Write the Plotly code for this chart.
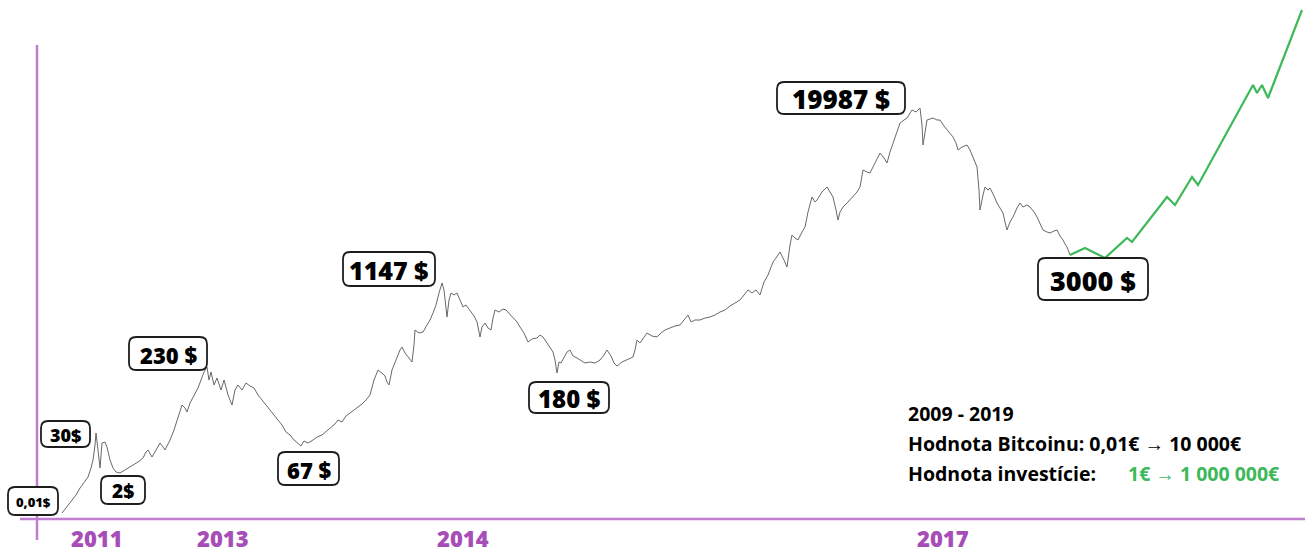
import plotly.graph_objects as go

# ---- data (horizontal position, vertical level measured from top of chart) ----
price_x = [62,66,72,76,80,84,88,91,93,95,96,98,100,102,105,107,110,113,116,120,123,128,133,138,143,146,148,152,156,160,163,165,168,170,174,177,180,182,185,187,190,194,198,201,204,207,209,211,214,217,221,224,228,232,235,238,242,246,250,254,258,262,266,270,274,278,282,286,290,294,298,301,304,308,313,317,322,327,331,335,338,342,346,350,354,358,362,366,370,374,378,382,385,387,389,392,395,397,400,402,405,409,412,414,415,419,423,427,430,433,436,439,442,444,446,447,449,451,454,457,460,463,466,470,474,477,480,482,485,488,491,493,495,499,503,506,510,513,517,520,524,528,532,537,540,543,546,548,551,553,555,557,559,561,564,567,570,573,577,580,585,590,595,600,604,607,611,614,617,622,627,633,635,637,640,644,647,652,657,661,665,670,675,680,684,688,691,695,700,705,710,715,720,725,730,735,740,744,748,752,756,760,764,768,771,773,776,780,783,787,790,792,795,798,802,805,808,812,815,817,822,827,830,833,836,838,840,843,848,853,857,860,863,867,870,875,880,884,887,890,893,897,900,904,907,912,916,920,922,923,925,927,930,933,937,940,944,947,950,953,956,958,962,967,970,973,975,977,979,980,983,985,988,990,994,997,1000,1003,1005,1007,1010,1013,1017,1020,1023,1027,1030,1034,1037,1040,1043,1047,1050,1054,1057,1060,1063,1065,1067,1070]
price_y = [513,508,500,495,488,482,477,468,460,445,433,450,468,443,442,447,460,468,472,473,471,468,465,462,458,452,450,457,450,443,447,450,444,440,430,420,410,405,408,412,403,395,388,380,372,367,380,372,385,378,390,380,395,405,390,385,390,383,386,388,395,400,405,410,415,420,425,432,435,440,443,446,441,443,440,437,435,431,428,424,420,422,416,413,410,407,404,400,395,380,370,373,376,382,385,370,362,357,350,347,353,358,362,345,330,333,332,325,320,313,305,293,283,290,305,317,300,293,295,293,300,307,305,310,316,322,337,327,323,328,330,318,310,312,309,310,314,318,322,327,333,342,339,338,335,337,342,345,349,352,360,373,362,363,358,352,350,356,358,360,363,362,363,360,355,350,356,363,366,362,360,357,350,340,343,337,333,336,337,333,330,328,326,325,320,315,322,320,320,318,317,315,312,310,306,303,300,295,290,293,290,295,282,275,268,262,258,252,258,267,245,235,238,240,232,227,212,197,202,200,192,187,192,197,210,220,212,207,202,197,192,187,170,172,173,163,153,158,163,152,143,132,123,120,118,110,112,108,125,145,130,120,119,118,120,120,126,130,134,137,143,150,147,145,150,157,162,167,190,210,195,187,190,188,196,203,208,213,222,230,222,217,208,203,207,205,207,212,217,224,230,232,233,231,230,236,240,244,247,255]

forecast_x = [1070,1085,1105,1127,1132,1167,1175,1192,1198,1253,1257,1262,1268,1302]
forecast_y = [255,248,258,238,242,197,205,177,185,85,93,85,98,10]

price_labels = ["0,01$", "30$", "2$", "230 $", "67 $", "1147 $", "180 $", "19987 $", "3000 $"]
label_boxes = [  # x0, y0, x1, y1
    (8, 487, 58, 515),
    (41, 421, 90, 447),
    (101, 476, 145, 504),
    (129, 337, 207, 370),
    (278, 452, 339, 485),
    (343, 252, 435, 286),
    (529, 382, 609, 413),
    (777, 82, 905, 114),
    (1038, 258, 1148, 300),
]
label_sizes = [13, 18, 19, 22, 22, 25, 24, 26, 27]

year_labels = ["2011", "2013", "2014", "2017"]
year_pos = [97, 223, 463, 943]

PURPLE = "#A64DB8"
AXIS = "#C07ED0"
GREEN = "#3DB85A"
FONT = "Open Sans"

fig = go.Figure()
fig.add_trace(go.Scatter(x=price_x, y=price_y, mode="lines",
                         line=dict(color="#444444", width=1), opacity=0.8,
                         hoverinfo="skip", showlegend=False))
fig.add_trace(go.Scatter(x=forecast_x, y=forecast_y, mode="lines",
                         line=dict(color=GREEN, width=2.2),
                         hoverinfo="skip", showlegend=False))


def rounded(x0, y0, x1, y1, r=7):
    return (f"M {x0+r},{y0} L {x1-r},{y0} Q {x1},{y0} {x1},{y0+r} "
            f"L {x1},{y1-r} Q {x1},{y1} {x1-r},{y1} L {x0+r},{y1} "
            f"Q {x0},{y1} {x0},{y1-r} L {x0},{y0+r} Q {x0},{y0} {x0+r},{y0} Z")


shapes = [
    dict(type="line", x0=37, x1=37, y0=45, y1=540, line=dict(color=AXIS, width=2.5)),
    dict(type="line", x0=20, x1=1305, y0=519, y1=519, line=dict(color=AXIS, width=2.5)),
]
annotations = []
for txt, (x0, y0, x1, y1), fs in zip(price_labels, label_boxes, label_sizes):
    shapes.append(dict(type="path", path=rounded(x0, y0, x1, y1),
                       line=dict(color="#1e1e1e", width=1.8), fillcolor="white"))
    annotations.append(dict(x=(x0 + x1) / 2, y=(y0 + y1) / 2 + 1, text=txt,
                            showarrow=False,
                            font=dict(family=FONT, size=fs, color="black", weight=800),
                            xanchor="center", yanchor="middle"))

for t, p in zip(year_labels, year_pos):
    annotations.append(dict(x=p, y=538, text=t, showarrow=False,
                            font=dict(family=FONT, size=22, color=PURPLE, weight=800),
                            xanchor="center", yanchor="middle"))

info_font = dict(family=FONT, size=19.5, color="black", weight=700)
annotations += [
    dict(x=906, y=413, text="2009 - 2019", showarrow=False, font=info_font,
         xanchor="left", yanchor="middle"),
    dict(x=906, y=443, text="Hodnota Bitcoinu: 0,01€ → 10 000€", showarrow=False,
         font=info_font, xanchor="left", yanchor="middle"),
    dict(x=906, y=473, text="Hodnota investície:", showarrow=False, font=info_font,
         xanchor="left", yanchor="middle"),
    dict(x=1126, y=473, text="1€ → 1 000 000€", showarrow=False,
         font=dict(family=FONT, size=19.5, color=GREEN, weight=700),
         xanchor="left", yanchor="middle"),
]

fig.update_layout(
    width=1308, height=554,
    margin=dict(l=0, r=0, t=0, b=0),
    paper_bgcolor="white", plot_bgcolor="white",
    xaxis=dict(range=[0, 1308], visible=False, fixedrange=True),
    yaxis=dict(range=[554, 0], visible=False, fixedrange=True),
    shapes=shapes, annotations=annotations, showlegend=False,
)
fig.write_html("out.html", config={"displayModeBar": False},
               post_script="document.body.style.margin='0';")
